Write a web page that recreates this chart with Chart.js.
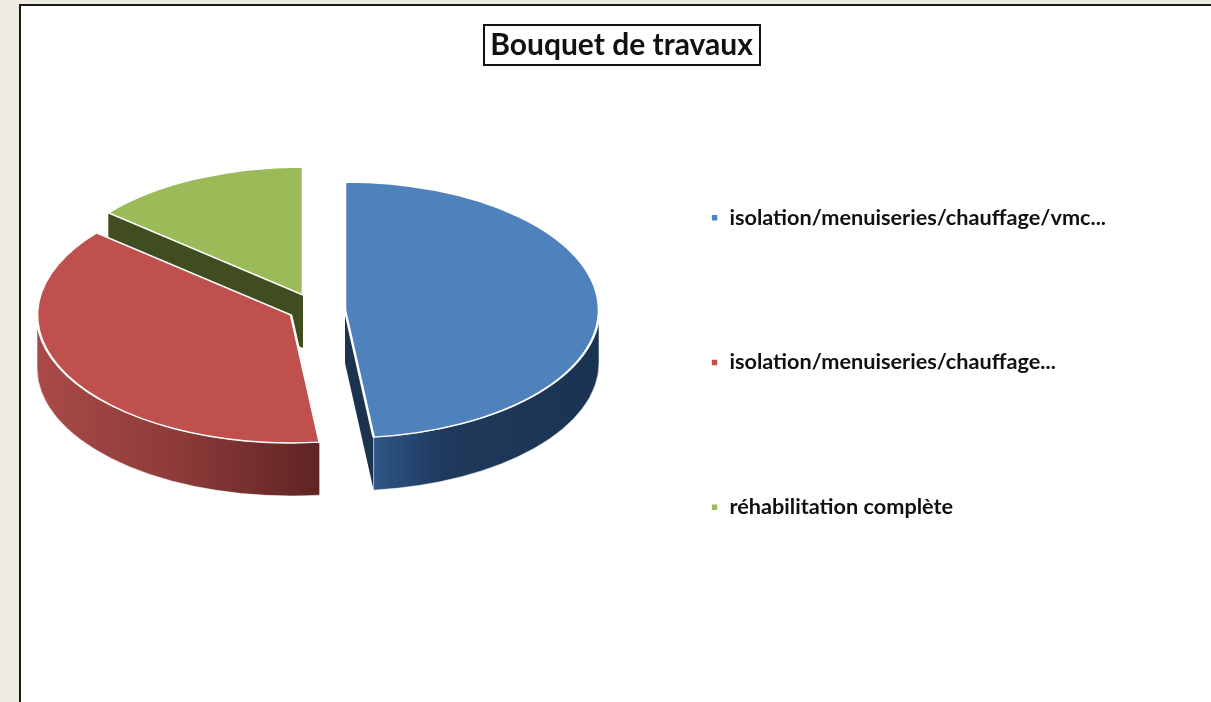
<!DOCTYPE html>
<html>
<head>
<meta charset="utf-8">
<style>
html,body{margin:0;padding:0;background:#fff;overflow:hidden}
#stage{position:absolute;left:0;top:0;width:1211px;height:702px;background:#eeebe3}
#frame{position:absolute;left:19px;top:4px;width:1192px;height:698px;background:#fff;border-left:2px solid #1a1a1a;border-top:2px solid #1a1a1a;box-sizing:border-box}
#wrap{position:absolute;left:0;top:0;width:1211px;height:702px}
canvas{filter:blur(0.45px)}
</style>
</head>
<body>
<div id="stage"><div id="frame"></div>
<div id="wrap"><canvas id="c" width="1211" height="702"></canvas></div></div>
<script src="https://cdn.jsdelivr.net/npm/chart.js@4"></script>
<script>
const categories = ["isolation/menuiseries/chauffage/vmc...", "isolation/menuiseries/chauffage...", "réhabilitation complète"];
const shares = [48.2, 37.9, 13.9];
const sliceColors = ["#4f81bd", "#c0504d", "#9bbb59"];
const titleText = "Bouquet de travaux";

// pseudo-3D view of the exploded pie
const RADIUS = 254, SQUASH = 128 / 254, DEPTH = 53;
const apexes = [[345, 310], [291, 315], [303, 295]];
const drawOrder = [2, 0, 1];
const wallStops = [
  [[0, "#2f5687"], [0.3, "#1f3a5c"], [1, "#1b3352"]],
  [[0, "#a94a47"], [0.5, "#8c3b39"], [1, "#5f2423"]],
  [[0, "#404d20"], [1, "#404d20"]]
];
const cutColors = ["#1c3350", "#5f2423", "#404d20"];

const pie3d = {
  id: "pie3d",
  beforeDatasetsDraw(chart) {
    const ctx = chart.ctx;
    const arcs = chart.getDatasetMeta(0).data;
    drawOrder.forEach(i => {
      const arc = arcs[i];
      const [ax, ay] = apexes[i];
      const s = arc.startAngle, e = arc.endAngle;
      // straight cut faces that turn towards the viewer
      const cut = [];
      if (Math.cos(e) > 1e-6) cut.push(e);
      if (-Math.cos(s) > 1e-6) cut.push(s);
      cut.forEach(a => {
        const px = ax + RADIUS * Math.cos(a), py = ay + RADIUS * SQUASH * Math.sin(a);
        ctx.beginPath();
        ctx.moveTo(ax, ay); ctx.lineTo(px, py);
        ctx.lineTo(px, py + DEPTH); ctx.lineTo(ax, ay + DEPTH);
        ctx.closePath();
        ctx.fillStyle = cutColors[i];
        ctx.fill();
      });
      // curved outer wall: part of the rim on the lower half
      const a0 = Math.max(s, 0), a1 = Math.min(e, Math.PI);
      if (a1 > a0) {
        const x0 = ax + RADIUS * Math.cos(a1), x1 = ax + RADIUS * Math.cos(a0);
        const g = ctx.createLinearGradient(Math.min(x0, x1), 0, Math.max(x0, x1), 0);
        wallStops[i].forEach(st => g.addColorStop(st[0], st[1]));
        ctx.beginPath();
        ctx.ellipse(ax, ay, RADIUS, RADIUS * SQUASH, 0, a0, a1);
        ctx.ellipse(ax, ay + DEPTH, RADIUS, RADIUS * SQUASH, 0, a1, a0, true);
        ctx.closePath();
        ctx.fillStyle = g;
        ctx.fill();
        ctx.strokeStyle = "rgba(255,255,255,0.55)";
        ctx.lineWidth = 1;
        ctx.stroke();
      }
      // top face: the library's own arc, squashed and moved
      ctx.save();
      ctx.translate(ax, ay);
      ctx.scale(1, SQUASH);
      ctx.translate(-arc.x, -arc.y);
      arc.draw(ctx);
      ctx.restore();
    });
    return false;
  },
  beforeDraw(chart) {
    const ctx = chart.ctx;
    ctx.save();
    ctx.strokeStyle = "#111";
    ctx.lineWidth = 2;
    ctx.strokeRect(484, 25, 276, 40);
    ctx.restore();
  }
};

new Chart(document.getElementById("c"), {
  type: "pie",
  data: {
    labels: categories,
    datasets: [{
      data: shares,
      backgroundColor: sliceColors,
      borderColor: "#ffffff",
      borderWidth: 2.6,
      radius: RADIUS
    }]
  },
  plugins: [pie3d],
  options: {
    responsive: false,
    animation: false,
    layout: { padding: { left: 127, right: 95, top: 23, bottom: 0 } },
    plugins: {
      tooltip: { enabled: false },
      title: {
        display: true,
        text: titleText,
        color: "#111",
        font: { family: "Lato", weight: "bold", size: 30 },
        padding: { top: 4, bottom: 25 }
      },
      legend: {
        position: "right",
        align: "center",
        maxWidth: 600,
        labels: {
          boxWidth: 8,
          boxHeight: 8,
          padding: 123,
          color: "#111",
          font: { family: "Lato", weight: "bold", size: 21.7 }
        }
      }
    }
  }
});
</script>
</body>
</html>
